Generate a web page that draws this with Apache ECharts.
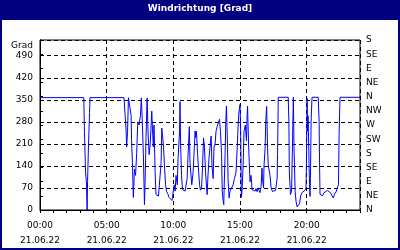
<!DOCTYPE html>
<html><head><meta charset="utf-8">
<script src="https://cdn.jsdelivr.net/npm/echarts/dist/echarts.min.js"></script>
<style>html,body{margin:0;padding:0;background:#fff}#c{width:400px;height:250px}</style>
</head><body><div id="c"></div>
<script>
const chartTitle = 'Windrichtung [Grad]';
const unitLabel = 'Grad';
const dateLabel = '21.06.22';
const compassLabels = ['N','NE','E','SE','S','SW','W','NW','N','NE','E','SE','S'];
// time in minutes since 00:00
const minutes = [0,197,200,205,209,212,214,218,223,225,378,383,387,390,394,398,405,410,412,416,420,425,430,435,440,446,452,456,460,465,468,470,474,477,482,486,491,496,503,506,510,513,518,522,527,533,540,545,548,551,556,560,565,569,576,581,587,594,600,604,608,612,618,621,628,630,633,637,641,646,653,657,662,666,672,675,683,689,698,701,704,709,714,718,722,727,731,736,740,745,752,756,761,765,770,774,779,783,788,792,797,803,808,812,817,820,824,827,829,833,836,839,842,844,846,851,855,862,869,875,882,887,891,894,900,903,906,909,914,918,924,929,932,934,939,945,950,954,961,968,972,977,981,986,990,995,999,1001,1006,1008,1013,1016,1020,1024,1027,1031,1035,1040,1046,1053,1060,1067,1069,1071,1072,1117,1120,1122,1127,1132,1136,1140,1143,1148,1152,1157,1163,1168,1173,1179,1186,1193,1197,1199,1202,1204,1206,1208,1211,1213,1215,1217,1220,1224,1252,1256,1258,1260,1265,1271,1278,1287,1294,1301,1307,1314,1320,1325,1332,1339,1343,1346,1350,1440];
// wind direction in degrees
const direction = [357,357,250,120,86,0,90,200,310,357,357,300,260,200,250,357,357,300,220,150,40,130,110,180,280,270,300,356,290,180,85,17,120,230,356,250,176,210,314,260,200,270,120,49,44,44,40,150,260,240,200,140,80,60,50,40,45,30,28,80,60,110,80,160,250,344,200,110,65,65,60,60,100,170,265,150,80,120,251,230,250,180,120,80,63,70,130,229,200,120,49,110,170,200,235,140,100,200,210,250,265,270,288,250,180,60,30,17,80,180,282,330,333,200,100,38,60,70,80,100,120,190,260,303,335,250,40,60,140,250,270,220,300,330,200,90,110,65,65,60,68,58,70,65,55,75,133,100,70,140,197,282,329,200,144,150,110,70,59,60,62,100,176,282,358,358,282,120,49,60,200,358,200,60,28,10,5,20,45,55,60,63,70,150,355,250,300,250,133,80,43,100,282,358,358,280,150,50,49,45,55,58,62,63,55,45,38,50,57,55,80,240,358,358];

const pad = n => (n < 10 ? '0' : '') + n;
const font = 'DejaVu Sans';
const chart = echarts.init(document.getElementById('c'), null, {renderer: 'canvas'});
chart.setOption({
  animation: false,
  backgroundColor: '#ffffff',
  grid: {left: 40, right: 40, top: 40, bottom: 40, show: true, borderColor: '#000', borderWidth: 1, backgroundColor: 'transparent'},
  graphic: [
    {type: 'rect', left: 0, top: 0, shape: {width: 400, height: 20}, style: {fill: '#000080'}, z: 10},
    {type: 'text', left: 'center', top: 4, style: {text: chartTitle, fill: '#fff', font: 'bold 9px "DejaVu Sans"'}, z: 11},
    {type: 'rect', left: 0, top: 0, shape: {width: 2, height: 250}, style: {fill: '#000080'}, z: 10},
    {type: 'rect', left: 398, top: 0, shape: {width: 2, height: 250}, style: {fill: '#000080'}, z: 10},
    {type: 'rect', left: 0, top: 248, shape: {width: 400, height: 2}, style: {fill: '#000080'}, z: 10},
    {type: 'text', right: 367, top: 41, style: {text: unitLabel, fill: '#000', font: '9px "DejaVu Sans"', textAlign: 'right'}, z: 11}
  ],
  xAxis: [
    {type: 'value', min: 0, max: 1440, interval: 300, position: 'bottom',
     axisLine: {show: true, lineStyle: {color: '#000'}}, axisTick: {show: false},
     axisLabel: {color: '#000', fontFamily: font, fontSize: 9, lineHeight: 15, margin: 8, showMaxLabel: false,
       formatter: v => v >= 1440 ? '' : pad(v / 60) + ':00\n' + dateLabel},
     splitLine: {show: true, lineStyle: {color: '#000', type: [4, 3], width: 1}}},
    {type: 'value', min: 0, max: 1440, interval: 60, position: 'bottom',
     axisLine: {show: false}, axisTick: {show: true, length: 3, lineStyle: {color: '#000'}},
     axisLabel: {show: false}, splitLine: {show: false}}
  ],
  yAxis: [
    {type: 'value', min: 0, max: 540, interval: 70, position: 'left',
     axisLine: {show: true, lineStyle: {color: '#000'}}, axisTick: {show: false},
     axisLabel: {color: '#000', fontFamily: font, fontSize: 9, margin: 7, formatter: v => v > 490 ? '' : String(v)},
     splitLine: {show: true, lineStyle: {color: '#000', type: [4, 3], width: 1}}},
    {type: 'value', min: 0, max: 540, interval: 45, position: 'right',
     axisLine: {show: true, lineStyle: {color: '#000'}}, axisTick: {show: true, length: 3, lineStyle: {color: '#000'}},
     axisLabel: {color: '#000', fontFamily: font, fontSize: 9, margin: 6, formatter: v => compassLabels[Math.round(v / 45)] || ''},
     splitLine: {show: false}}
  ],
  series: [{
    type: 'line', xAxisIndex: 0, yAxisIndex: 0, symbol: 'none', showSymbol: false,
    lineStyle: {color: '#0000ff', width: 1}, z: 5,
    data: minutes.map((m, i) => [m, direction[i]])
  }]
});
</script></body></html>
